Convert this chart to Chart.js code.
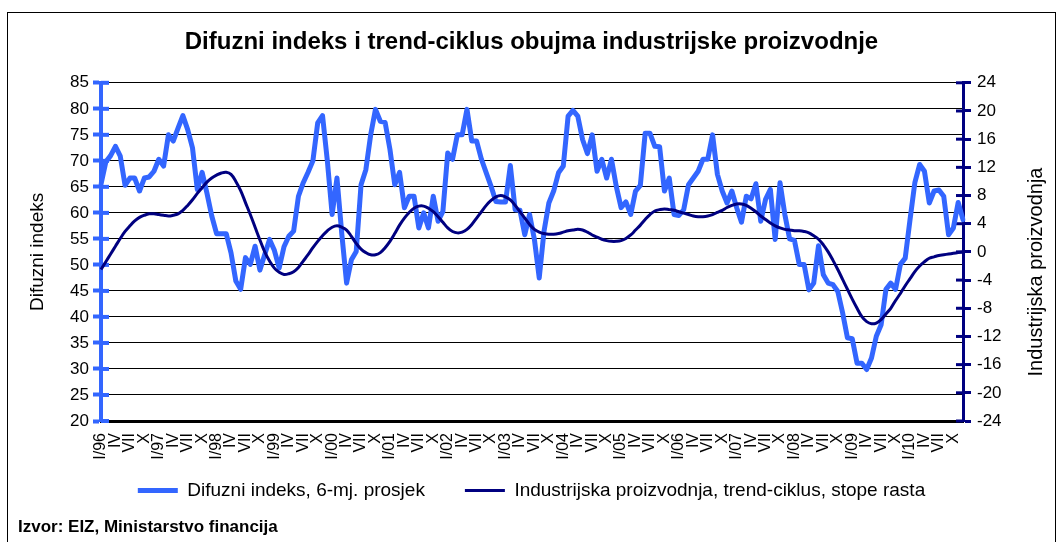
<!DOCTYPE html>
<html>
<head>
<meta charset="utf-8">
<script src="https://cdn.jsdelivr.net/npm/chart.js@4.4.0/dist/chart.umd.min.js"></script>
<style>
  html, body { margin: 0; padding: 0; background: #fff; }
  #wrap { position: relative; width: 1063px; height: 542px; }
</style>
</head>
<body>
<div id="wrap"><canvas id="chart"></canvas></div>
<script>
// months (roman) and years on the category axis
const romans = ['I','II','III','IV','V','VI','VII','VIII','IX','X','XI','XII'];
const years = ['96','97','98','99','00','01','02','03','04','05','06','07','08','09','10'];

// Difuzni indeks, 6-mj. prosjek (left axis), one row per year
const diffusion = [
  65.5, 69.8, 71.0, 72.8, 70.9, 65.3, 66.7, 66.7, 64.2, 66.7, 66.9, 68.0,
  70.3, 69.0, 75.0, 73.8, 76.3, 78.7, 76.0, 72.5, 64.5, 67.8, 63.8, 59.4,
  56.0, 56.0, 56.0, 52.3, 46.9, 45.3, 51.4, 50.1, 53.6, 49.0, 52.0, 54.9,
  52.8, 49.4, 53.5, 55.5, 56.5, 63.2, 65.8, 67.8, 70.0, 77.3, 78.7, 70.0,
  59.7, 66.7, 56.0, 46.5, 51.0, 52.6, 65.4, 68.3, 75.0, 79.9, 77.6, 77.4,
  72.2, 65.4, 67.8, 61.0, 63.2, 63.2, 57.1, 60.0, 57.1, 63.2, 58.4, 60.3,
  71.5, 70.3, 75.0, 75.0, 79.9, 73.8, 73.8, 70.3, 67.7, 65.1, 62.2, 62.1,
  62.1, 69.1, 60.6, 60.5, 55.8, 59.7, 54.9, 47.5, 56.5, 61.9, 64.2, 67.7,
  69.0, 78.6, 79.7, 78.6, 74.1, 71.4, 75.0, 68.0, 70.3, 66.7, 70.3, 65.1,
  61.0, 62.1, 59.7, 64.2, 65.3, 75.3, 75.3, 72.8, 72.7, 64.2, 66.7, 59.7,
  59.5, 60.6, 65.4, 66.7, 68.0, 70.3, 70.3, 75.0, 67.4, 64.2, 61.9, 64.2,
  61.0, 58.2, 63.2, 62.7, 65.6, 58.4, 62.6, 64.5, 54.9, 65.8, 59.7, 55.0,
  54.7, 50.1, 50.1, 45.2, 46.5, 53.7, 48.1, 46.5, 46.2, 44.9, 40.8, 36.0,
  35.8, 31.1, 31.1, 29.9, 32.1, 36.3, 38.5, 45.3, 46.5, 45.3, 50.1, 51.3,
  58.7, 65.8, 69.3, 68.0, 61.9, 64.2, 64.4, 63.2, 55.8, 57.1, 62.0, 58.7
];

// Industrijska proizvodnja, trend-ciklus, stope rasta (right axis)
const trend = [
  -2.5, -1.4, -0.3,  0.8,  1.9,  2.9,  3.7,  4.4,  4.9,  5.2,  5.4,  5.4,
   5.3,  5.2,  5.1,  5.2,  5.4,  5.9,  6.6,  7.4,  8.3,  9.1,  9.9, 10.5,
  10.9, 11.2, 11.3, 11.0, 10.0,  8.7,  7.0,  5.3,  3.5,  1.7,  0.0, -1.3,
  -2.3, -2.9, -3.2, -3.1, -2.8, -2.2, -1.3, -0.4,  0.6,  1.5,  2.3,  3.0,
   3.5,  3.7,  3.5,  3.1,  2.2,  1.2,  0.4, -0.1, -0.4, -0.4, -0.1,  0.6,
   1.5,  2.6,  3.8,  4.8,  5.6,  6.2,  6.5,  6.5,  6.2,  5.7,  5.0,  4.2,
   3.4,  2.9,  2.7,  2.8,  3.2,  3.9,  4.8,  5.7,  6.6,  7.3,  7.8,  8.0,
   7.8,  7.4,  6.6,  5.7,  4.8,  3.9,  3.2,  2.8,  2.6,  2.5,  2.5,  2.6,
   2.8,  3.0,  3.1,  3.2,  3.1,  2.8,  2.4,  2.1,  1.8,  1.6,  1.5,  1.5,
   1.6,  1.9,  2.4,  3.1,  3.8,  4.6,  5.3,  5.8,  6.0,  6.1,  6.0,  5.9,
   5.7,  5.5,  5.3,  5.1,  5.0,  5.0,  5.1,  5.3,  5.6,  5.9,  6.3,  6.6,
   6.8,  6.8,  6.6,  6.2,  5.7,  5.1,  4.6,  4.1,  3.7,  3.4,  3.2,  3.1,
   3.0,  3.0,  2.9,  2.7,  2.3,  1.8,  1.0,  0.0, -1.2, -2.5, -3.9, -5.3,
  -6.7, -8.0, -9.2, -9.9,-10.2,-10.1, -9.6, -8.8, -8.0, -6.9, -5.9, -4.8,
  -3.8, -2.8, -2.0, -1.4, -0.9, -0.7, -0.5, -0.4, -0.3, -0.2, -0.1,  0.0
];

const leftTicks = [20, 25, 30, 35, 40, 45, 50, 55, 60, 65, 70, 75, 80, 85];
const rightTicks = [-24, -20, -16, -12, -8, -4, 0, 4, 8, 12, 16, 20, 24];

const labels = years.flatMap(y => romans.map((m, k) => k === 0 ? 'I/' + y : m));

const FONT = 'Arial, "Liberation Sans", sans-serif';
const BLUE = '#3366ff';
const NAVY = '#000080';

// frame, tick marks across the axes, axis titles and source line
const extras = {
  id: 'extras',
  afterLayout(chart) {
    // wide gap between legend items, but keep the legend close under the axis labels
    chart.legend.top -= 28;
    chart.legend.bottom -= 28;
  },
  beforeDatasetsDraw(chart) {
    const { ctx, chartArea: a, scales } = chart;
    ctx.save();
    ctx.strokeStyle = BLUE; ctx.lineWidth = 4;
    leftTicks.forEach(v => {
      const y = scales.y.getPixelForValue(v);
      ctx.beginPath(); ctx.moveTo(a.left, y); ctx.lineTo(a.left + 8, y); ctx.stroke();
    });
    ctx.strokeStyle = NAVY; ctx.lineWidth = 3;
    rightTicks.forEach(v => {
      const y = scales.y1.getPixelForValue(v);
      ctx.beginPath(); ctx.moveTo(a.right - 7, y); ctx.lineTo(a.right, y); ctx.stroke();
    });
    ctx.restore();
  },
  afterDraw(chart) {
    const { ctx, chartArea: a } = chart;
    ctx.save();
    ctx.strokeStyle = '#000'; ctx.lineWidth = 1;
    ctx.strokeRect(7.5, 12.5, 1048, 600);

    ctx.fillStyle = '#000';
    ctx.textAlign = 'center'; ctx.textBaseline = 'middle';
    ctx.font = '19px ' + FONT;
    ctx.save();
    ctx.translate(38, (a.top + a.bottom) / 2); ctx.rotate(-Math.PI / 2);
    ctx.fillText('Difuzni indeks', 0, 0);
    ctx.restore();
    ctx.font = '20px ' + FONT;
    ctx.save();
    ctx.translate(1036, 272); ctx.rotate(-Math.PI / 2);
    ctx.fillText('Industrijska proizvodnja', 0, 0);
    ctx.restore();

    ctx.textAlign = 'left';
    ctx.font = 'bold 17px ' + FONT;
    ctx.fillText('Izvor: EIZ, Ministarstvo financija', 18, 527);
    ctx.restore();
  }
};

new Chart(document.getElementById('chart'), {
  type: 'line',
  data: {
    labels,
    datasets: [
      { label: 'Difuzni indeks, 6-mj. prosjek', data: diffusion, yAxisID: 'y', borderColor: BLUE, backgroundColor: BLUE,
        borderWidth: 5, pointRadius: 0, tension: 0, borderJoinStyle: 'round', borderCapStyle: 'round', order: 1 },
      { label: 'Industrijska proizvodnja, trend-ciklus, stope rasta', data: trend, yAxisID: 'y1', borderColor: NAVY, backgroundColor: NAVY,
        borderWidth: 3, pointRadius: 0, tension: 0.4, order: 0 }
    ]
  },
  options: {
    responsive: true,
    maintainAspectRatio: false,
    animation: false,
    devicePixelRatio: 1,
    layout: { padding: { top: 0, left: 0, right: 0, bottom: 4 } },
    plugins: {
      title: { display: true, text: 'Difuzni indeks i trend-ciklus obujma industrijske proizvodnje',
               color: '#000', font: { family: FONT, size: 24, weight: 'bold' }, padding: { top: 28, bottom: 26 } },
      legend: { position: 'bottom',
                labels: { color: '#000', font: { family: FONT, size: 19 }, usePointStyle: true, pointStyle: 'line',
                          pointStyleWidth: 40, padding: 40, sort: (a, b) => a.datasetIndex - b.datasetIndex } },
      tooltip: { enabled: false }
    },
    scales: {
      x: {
        offset: false,
        grid: { display: false, drawTicks: false },
        border: { color: '#000', width: 3 },
        ticks: { autoSkip: false, minRotation: 90, maxRotation: 90, padding: 12, color: '#000',
                 font: { family: FONT, size: 16 },
                 callback: (v, i) => i % 3 === 0 ? labels[i] : null },
        afterFit: s => { s.height = 48; }
      },
      y: {
        position: 'left',
        min: leftTicks[0], max: leftTicks[leftTicks.length - 1],
        ticks: { stepSize: leftTicks[1] - leftTicks[0], padding: 4, color: '#000', font: { family: FONT, size: 17 } },
        grid: { color: '#000', lineWidth: 1, tickColor: BLUE, tickWidth: 4, tickLength: 8 },
        border: { color: BLUE, width: 4 },
        afterFit: s => { s.width = 101; }
      },
      y1: {
        position: 'right',
        min: rightTicks[0], max: rightTicks[rightTicks.length - 1],
        ticks: { stepSize: rightTicks[1] - rightTicks[0], padding: 6, color: '#000', font: { family: FONT, size: 17 } },
        grid: { drawOnChartArea: false, tickColor: NAVY, tickWidth: 3, tickLength: 8 },
        border: { color: NAVY, width: 3 },
        afterFit: s => { s.width = 100; }
      }
    }
  },
  plugins: [extras]
});
</script>
</body>
</html>
